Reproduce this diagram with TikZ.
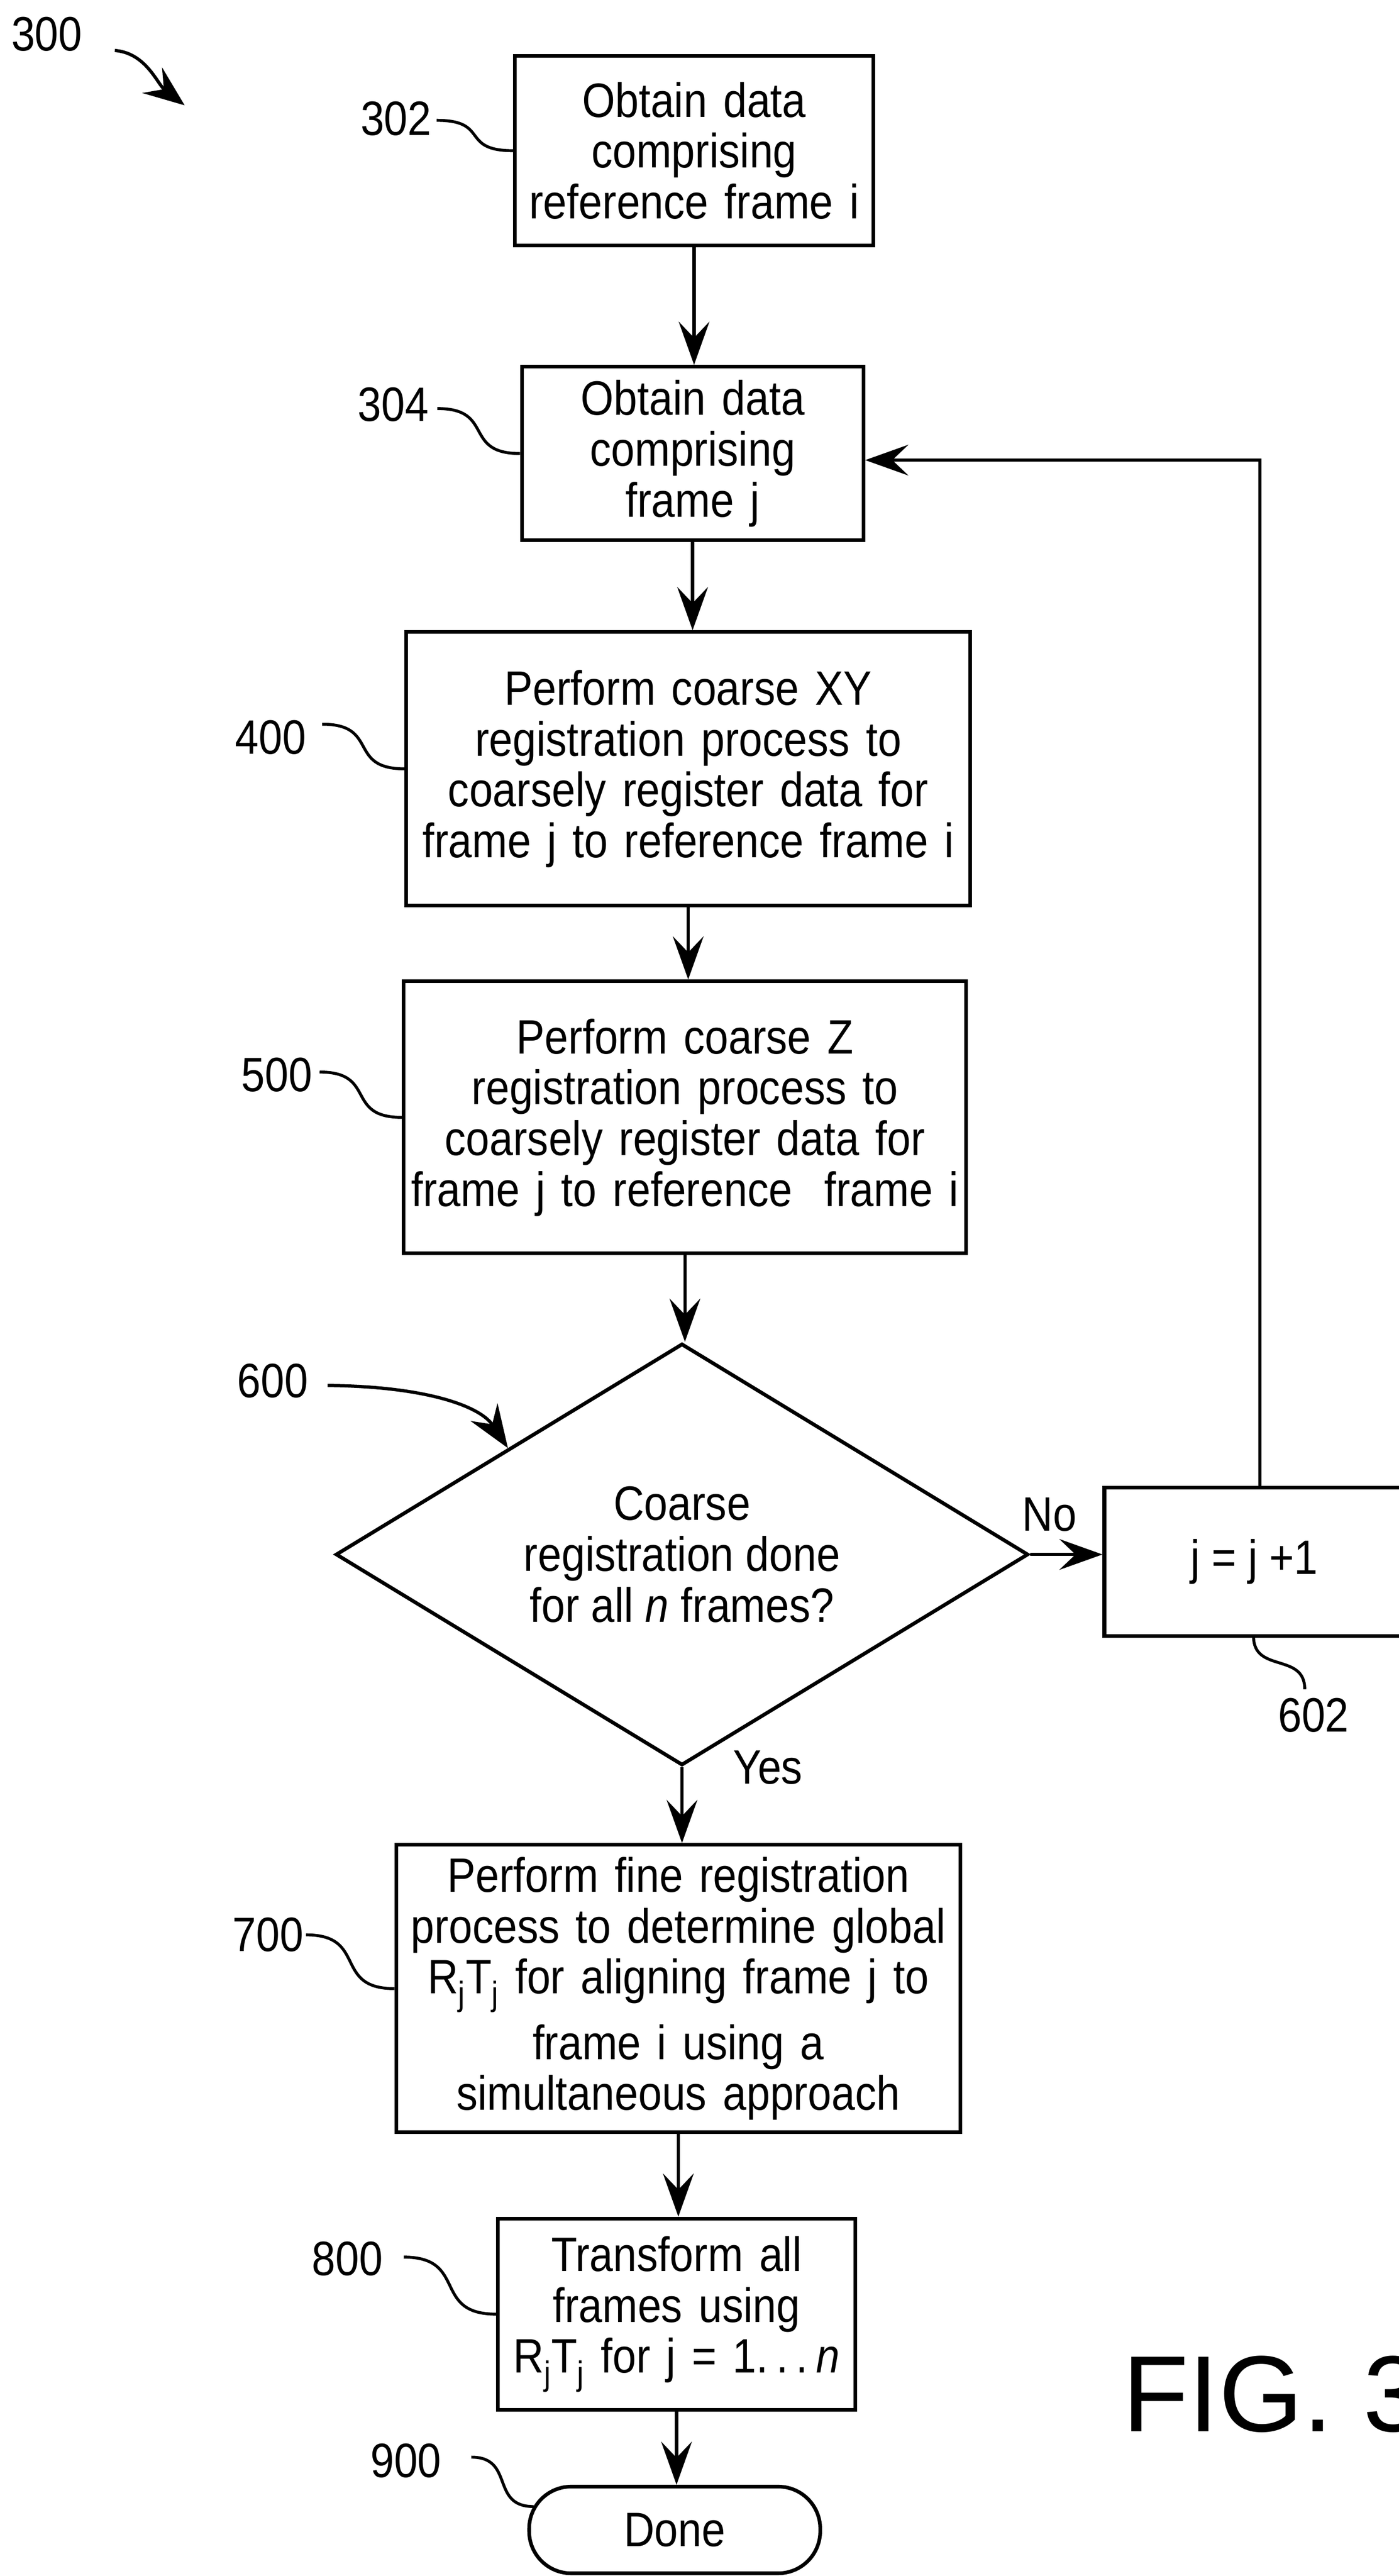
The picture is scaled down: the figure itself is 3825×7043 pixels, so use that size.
\documentclass[tikz,border=0pt]{standalone}
\usepackage{fontspec}
\setmainfont{Liberation Sans}[FakeStretch=0.88]
\newfontfamily\figfamily{Liberation Sans}
\usetikzlibrary{arrows.meta,shapes.geometric,calc}
\newcommand\bodyfnt{\fontsize{33}{34.75}\selectfont}
\newcommand\figfnt{\figfamily\fontsize{74}{80}\selectfont}
\newcommand\leadline[2]{\draw[lead] (#1) .. controls ($(#1)!0.7!(#1 -| #2)$) and ($(#2)!0.7!(#2 -| #1)$) .. (#2);}
\begin{document}
\begin{tikzpicture}[x=0.25pt,y=-0.25pt,
  box/.style={draw, line width=2.5pt, rectangle, inner sep=0pt, align=center, font=\bodyfnt},
  arr/.style={line width=2.2pt, -{Stealth[length=29.5pt,width=21pt,inset=11pt]}},
  lead/.style={line width=2pt},
  lbl/.style={inner sep=0pt, font=\bodyfnt}]
\useasboundingbox (0,0) rectangle (3825,7043);

% boxes
\node[box, minimum width=245pt, minimum height=129.75pt, text width=240pt] (n302) at (1898,412)
  {Obtain data\\comprising\\reference frame i};
\node[box, minimum width=233.5pt, minimum height=118.75pt, text width=228pt] (n304) at (1894,1240)
  {Obtain data\\comprising\\frame j};
\node[box, minimum width=385.5pt, minimum height=187pt, text width=380pt] (n400) at (1882,2102)
  {Perform coarse XY\\registration process to\\coarsely register data for\\frame j to reference frame i};
\node[box, minimum width=384.5pt, minimum height=186pt, text width=380pt] (n500) at (1873,3055)
  {Perform coarse Z\\registration process to\\coarsely register data for\\frame j to reference~~frame i};
\node[draw, line width=2.5pt, shape=diamond, aspect=1.64, inner sep=0pt, minimum width=473.5pt,
  minimum height=288.25pt, align=center, font=\bodyfnt] (dia) at (1865,4250)
  {Coarse\\registration done\\for all \textit{n} frames?};
\node[box, minimum width=205pt, minimum height=101.25pt] (n602) at (3430,4270) {j = j +1};
\node[box, minimum width=385.75pt, minimum height=196.5pt, text width=382pt] (n700) at (1855,5437)
  {Perform fine registration\\process to determine global\\R\textsubscript{j}T\textsubscript{j} for aligning frame j to\\[7pt]frame i using a\\simultaneous approach};
\node[box, minimum width=244.25pt, minimum height=130.75pt, text width=240pt] (n800) at (1850,6327)
  {Transform all\\frames using\\R\textsubscript{j}T\textsubscript{j} for j = 1.\,.\,.\,\textit{n}};
\node[box, rounded corners=28.75pt, minimum width=199pt, minimum height=59.25pt] (done) at (1845,6917) {Done};

% labels
\node[lbl] (l300) at (128,93) {300};
\node[lbl] (l302) at (1083,325) {302};
\node[lbl] (l304) at (1075,1106) {304};
\node[lbl] (l400) at (740,2016) {400};
\node[lbl] (l500) at (757,2938) {500};
\node[lbl] (l600) at (746,3776) {600};
\node[lbl] (l602) at (3592,4690) {602};
\node[lbl] (l700) at (733,5290) {700};
\node[lbl] (l800) at (950,6175) {800};
\node[lbl] (l900) at (1110,6728) {900};
\node[lbl] (lno) at (2870,4141) {No};
\node[lbl] (lyes) at (2100,4832) {Yes};
\node[inner sep=0pt, anchor=base west, font=\figfnt] (fig) at (3069,6648) {FIG. 3};

% main flow arrows
\draw[arr] (n302.south) -- (n302.south |- n304.north);
\draw[arr] (n304.south) -- (n304.south |- n400.north);
\draw[arr] (n400.south) -- (n400.south |- n500.north);
\draw[arr] (n500.south) -- (n500.south |- dia.north);
\draw[arr] (dia.south) -- (dia.south |- n700.north);
\draw[arr] (n700.south) -- (n700.south |- n800.north);
\draw[arr] (n800.south) -- (n800.south |- done.north);
\draw[arr] (dia.east) -- (dia.east -| n602.west);

% feedback loop
\coordinate (fb) at (3445,1258);
\draw[arr] (n602.north -| fb) -- (fb) -- (fb -| n304.east);

% reference arrows
\coordinate (s300) at (314,138);
\coordinate (e300) at (505,288);
\draw[line width=2.2pt, -{Stealth[length=28pt,width=22pt,inset=10pt]}] (s300) .. controls (400,145) and (430,230) .. (e300);
\coordinate (s600) at (896,3788);
\coordinate (e600) at ($(dia.north)!0.5!(dia.west)$);
\draw[line width=2.2pt, -{Stealth[length=29.5pt,width=22pt,inset=10pt]}] (s600) .. controls (1150,3790) and (1310,3840) .. (e600);

% leaders
\coordinate (s302) at (1194,329);
\coordinate (s304) at (1196,1117);
\coordinate (s400) at (881,1980);
\coordinate (s500) at (874,2931);
\coordinate (s700) at (837,5290);
\coordinate (s800) at (1104,6171);
\coordinate (s900) at (1289,6718);
\coordinate (e900) at (1459,6853);
\leadline{s302}{n302.west}
\leadline{s304}{n304.west}
\leadline{s400}{n400.west}
\leadline{s500}{n500.west}
\leadline{s700}{n700.west}
\leadline{s800}{n800.west}
\leadline{s900}{e900}
\coordinate (s602) at (3428,4474);
\coordinate (e602) at ([xshift=-6pt,yshift=6pt]l602.north);
\draw[lead] (s602) .. controls ($(s602)!0.7!(s602 |- e602)$) and ($(e602)!0.7!(e602 |- s602)$) .. (e602);
\end{tikzpicture}
\end{document}
